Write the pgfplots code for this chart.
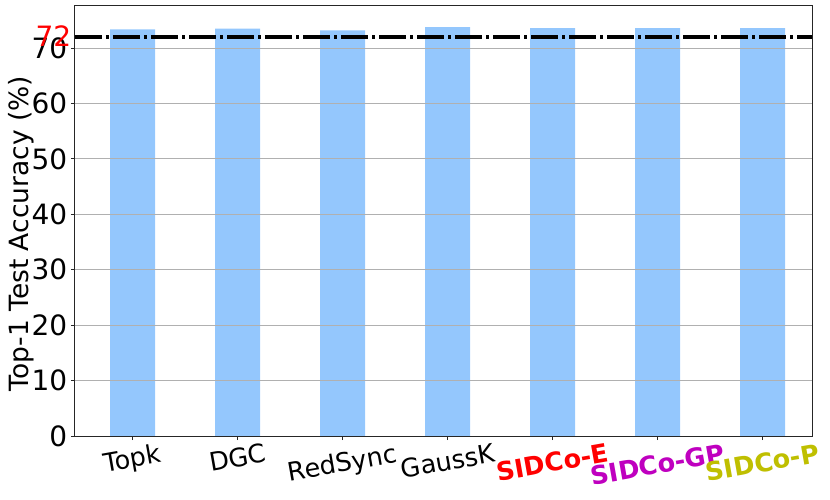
\documentclass[border=0pt]{standalone}
\usepackage{fontspec}
\setmainfont{DejaVu Sans}
\usepackage{graphicx}
\usepackage{pgfplots}
\pgfplotsset{compat=1.18}
\definecolor{barblue}{RGB}{148,199,253}
\definecolor{gridgray}{RGB}{176,176,176}
\definecolor{mplm}{RGB}{191,0,191}
\definecolor{mply}{RGB}{191,191,0}
\newcommand{\xl}[1]{\rotatebox{10}{#1}}
\begin{document}
\begin{tikzpicture}
\useasboundingbox (-75pt,-63pt) rectangle (755pt,436pt);
\begin{axis}[
  scale only axis, width=737pt, height=430pt,
  xmin=-0.55, xmax=6.47, ymin=0, ymax=77.6,
  axis line style={line width=1pt, black!85},
  ytick={0,10,...,70}, ymajorgrids,
  grid style={gridgray, line width=1pt},
  xtick={0,...,6},
  xticklabels={\xl{Topk},\xl{DGC},\xl{RedSync},\xl{GaussK},
    \xl{\textcolor{red}{\bfseries SIDCo-E}},
    \xl{\textcolor{mplm}{\bfseries SIDCo-GP}},
    \xl{\textcolor{mply}{\bfseries SIDCo-P}}},
  tick align=outside, major tick length=4pt,
  tick style={line width=1pt, black!85},
  xtick pos=bottom, ytick pos=left,
  /pgf/number format/assume math mode=true,
  xticklabel style={font=\fontsize{25.5}{30}\selectfont, anchor=north, inner sep=0pt, yshift=-3pt},
  yticklabel style={font=\fontsize{28}{33}\selectfont, anchor=east, inner sep=0pt, xshift=-3.5pt},
  extra y ticks={72},
  extra y tick style={major tick length=0pt, grid=none,
    yticklabel style={text=red, yshift=1pt}},
  every axis y label/.style={at={(axis description cs:-0.0909,0.471)}, rotate=90, anchor=north, inner sep=0pt,
    font=\fontsize{26.5}{32}\selectfont},
  ylabel={Top-1 Test Accuracy (\%)},
  axis on top,
]
\addplot[ybar, bar width=45pt, fill=barblue, draw=none] coordinates {
  (0,73.4) (1,73.5) (2,73.2) (3,73.8) (4,73.6) (5,73.6) (6,73.6)};
\addplot[black, line width=4pt, dash pattern=on 27pt off 4pt on 3pt off 4pt] coordinates {(-0.55,72) (6.47,72)};
\end{axis}
\end{tikzpicture}
\end{document}
